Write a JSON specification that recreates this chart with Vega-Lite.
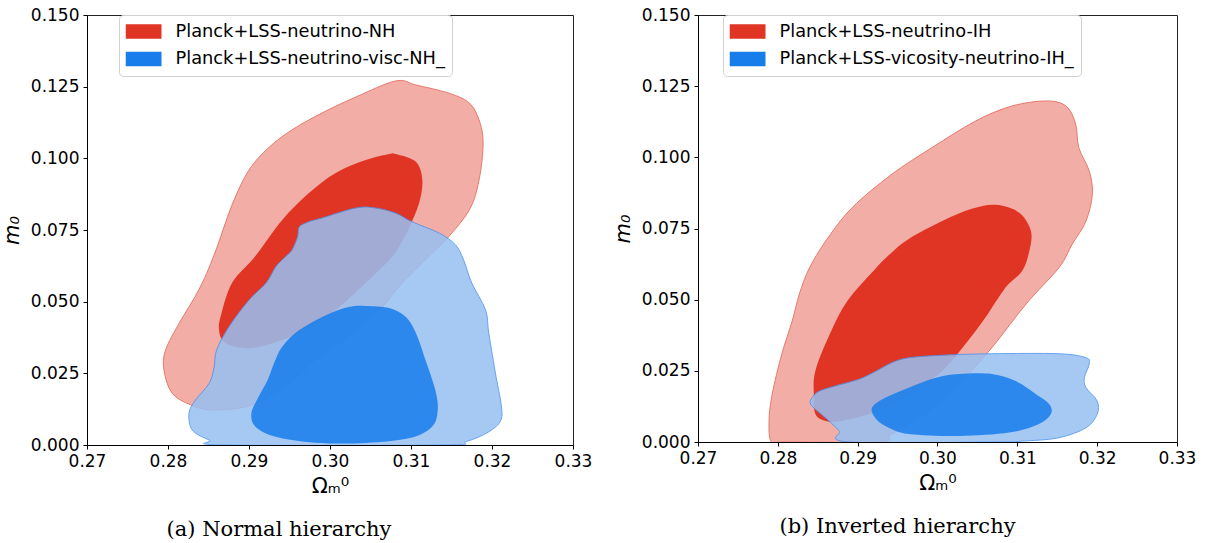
{
  "$schema": "https://vega.github.io/schema/vega-lite/v6.json",
  "background": "white",
  "padding": {"left": 0, "top": 5, "right": 5, "bottom": 0},
  "spacing": 125,
  "bounds": "flush",
  "config": {
    "font": "DejaVu Sans",
    "view": {"stroke": "#222222", "strokeWidth": 1},
    "axis": {
      "grid": false,
      "domainColor": "#000000",
      "tickColor": "#000000",
      "labelColor": "#000000",
      "titleColor": "#000000",
      "labelFont": "DejaVu Sans",
      "labelFontSize": 17,
      "tickSize": 4,
      "labelPadding": 4,
      "titleFont": "DejaVu Sans",
      "titleFontWeight": "normal",
      "labelOverlap": false,
      "labelFlush": false
    },
    "legend": {
      "orient": "none",
      "title": null,
      "labelFont": "DejaVu Sans",
      "labelFontSize": 17.8,
      "labelColor": "#000000",
      "symbolType": "M-1,-0.4H1V0.4H-1Z",
      "symbolSize": 1296,
      "symbolOpacity": 1,
      "symbolStrokeWidth": 0,
      "symbolOffset": 0,
      "labelOffset": 14,
      "clipHeight": 20,
      "padding": 6.5,
      "rowPadding": 7.5,
      "strokeColor": "#d0d0d0",
      "fillColor": "rgba(255,255,255,0.8)",
      "cornerRadius": 4,
      "labelLimit": 0
    }
  },
  "resolve": {"scale": {"color": "independent"}, "legend": {"color": "independent"}},
  "datasets": {
    "L": [
      {"c":"ro","i":1,"x":0.3081,"y":0.1270},
      {"c":"ro","i":2,"x":0.3106,"y":0.1256},
      {"c":"ro","i":3,"x":0.3147,"y":0.1227},
      {"c":"ro","i":4,"x":0.3172,"y":0.1193},
      {"c":"ro","i":5,"x":0.3184,"y":0.1134},
      {"c":"ro","i":6,"x":0.3189,"y":0.1053},
      {"c":"ro","i":7,"x":0.3184,"y":0.0924},
      {"c":"ro","i":8,"x":0.3172,"y":0.0820},
      {"c":"ro","i":9,"x":0.3143,"y":0.0715},
      {"c":"ro","i":10,"x":0.3130,"y":0.0680},
      {"c":"ro","i":11,"x":0.3089,"y":0.0565},
      {"c":"ro","i":12,"x":0.3064,"y":0.0481},
      {"c":"ro","i":13,"x":0.3023,"y":0.0377},
      {"c":"ro","i":14,"x":0.2982,"y":0.0296},
      {"c":"ro","i":15,"x":0.2962,"y":0.0241},
      {"c":"ro","i":16,"x":0.2937,"y":0.0186},
      {"c":"ro","i":17,"x":0.2900,"y":0.0136},
      {"c":"ro","i":18,"x":0.2855,"y":0.0122},
      {"c":"ro","i":19,"x":0.2828,"y":0.0140},
      {"c":"ro","i":20,"x":0.2805,"y":0.0181},
      {"c":"ro","i":21,"x":0.2795,"y":0.0262},
      {"c":"ro","i":22,"x":0.2797,"y":0.0331},
      {"c":"ro","i":23,"x":0.2814,"y":0.0426},
      {"c":"ro","i":24,"x":0.2838,"y":0.0541},
      {"c":"ro","i":25,"x":0.2857,"y":0.0663},
      {"c":"ro","i":26,"x":0.2879,"y":0.0837},
      {"c":"ro","i":27,"x":0.2900,"y":0.0959},
      {"c":"ro","i":28,"x":0.2925,"y":0.1039},
      {"c":"ro","i":29,"x":0.2953,"y":0.1099},
      {"c":"ro","i":30,"x":0.2990,"y":0.1158},
      {"c":"ro","i":31,"x":0.3032,"y":0.1214},

      {"c":"ri","m":"Planck+LSS-neutrino-NH","i":1,"x":0.3081,"y":0.1015},
      {"c":"ri","m":"Planck+LSS-neutrino-NH","i":2,"x":0.3106,"y":0.0988},
      {"c":"ri","m":"Planck+LSS-neutrino-NH","i":3,"x":0.3114,"y":0.0924},
      {"c":"ri","m":"Planck+LSS-neutrino-NH","i":4,"x":0.3110,"y":0.0844},
      {"c":"ri","m":"Planck+LSS-neutrino-NH","i":5,"x":0.3098,"y":0.0760},
      {"c":"ri","m":"Planck+LSS-neutrino-NH","i":6,"x":0.3085,"y":0.0691},
      {"c":"ri","m":"Planck+LSS-neutrino-NH","i":7,"x":0.3073,"y":0.0645},
      {"c":"ri","m":"Planck+LSS-neutrino-NH","i":8,"x":0.3044,"y":0.0565},
      {"c":"ri","m":"Planck+LSS-neutrino-NH","i":9,"x":0.3002,"y":0.0460},
      {"c":"ri","m":"Planck+LSS-neutrino-NH","i":10,"x":0.2962,"y":0.0391},
      {"c":"ri","m":"Planck+LSS-neutrino-NH","i":11,"x":0.2912,"y":0.0342},
      {"c":"ri","m":"Planck+LSS-neutrino-NH","i":12,"x":0.2884,"y":0.0342},
      {"c":"ri","m":"Planck+LSS-neutrino-NH","i":13,"x":0.2868,"y":0.0363},
      {"c":"ri","m":"Planck+LSS-neutrino-NH","i":14,"x":0.2863,"y":0.0401},
      {"c":"ri","m":"Planck+LSS-neutrino-NH","i":15,"x":0.2865,"y":0.0448},
      {"c":"ri","m":"Planck+LSS-neutrino-NH","i":16,"x":0.2879,"y":0.0565},
      {"c":"ri","m":"Planck+LSS-neutrino-NH","i":17,"x":0.2907,"y":0.0656},
      {"c":"ri","m":"Planck+LSS-neutrino-NH","i":18,"x":0.2941,"y":0.0785},
      {"c":"ri","m":"Planck+LSS-neutrino-NH","i":19,"x":0.2974,"y":0.0879},
      {"c":"ri","m":"Planck+LSS-neutrino-NH","i":20,"x":0.3007,"y":0.0949},
      {"c":"ri","m":"Planck+LSS-neutrino-NH","i":21,"x":0.3044,"y":0.0994},
      {"c":"ri","m":"Planck+LSS-neutrino-NH","i":22,"x":0.3073,"y":0.1015},

      {"c":"bo","i":1,"x":0.2960,"y":0.0727},
      {"c":"bo","i":2,"x":0.2962,"y":0.0761},
      {"c":"bo","i":3,"x":0.2974,"y":0.0779},
      {"c":"bo","i":4,"x":0.2990,"y":0.0792},
      {"c":"bo","i":5,"x":0.3032,"y":0.0827},
      {"c":"bo","i":6,"x":0.3056,"y":0.0827},
      {"c":"bo","i":7,"x":0.3081,"y":0.0809},
      {"c":"bo","i":8,"x":0.3101,"y":0.0779},
      {"c":"bo","i":9,"x":0.3135,"y":0.0739},
      {"c":"bo","i":10,"x":0.3155,"y":0.0698},
      {"c":"bo","i":11,"x":0.3165,"y":0.0645},
      {"c":"bo","i":12,"x":0.3175,"y":0.0565},
      {"c":"bo","i":13,"x":0.3192,"y":0.0471},
      {"c":"bo","i":14,"x":0.3196,"y":0.0391},
      {"c":"bo","i":15,"x":0.3205,"y":0.0238},
      {"c":"bo","i":16,"x":0.3211,"y":0.0147},
      {"c":"bo","i":17,"x":0.3211,"y":0.0087},
      {"c":"bo","i":18,"x":0.3196,"y":0.0046},
      {"c":"bo","i":19,"x":0.3168,"y":0.0012},
      {"c":"bo","i":20,"x":0.3138,"y":0.0},
      {"c":"bo","i":21,"x":0.2869,"y":0.0},
      {"c":"bo","i":22,"x":0.2851,"y":0.0017},
      {"c":"bo","i":23,"x":0.2830,"y":0.0052},
      {"c":"bo","i":24,"x":0.2826,"y":0.0112},
      {"c":"bo","i":25,"x":0.2834,"y":0.0157},
      {"c":"bo","i":26,"x":0.2851,"y":0.0216},
      {"c":"bo","i":27,"x":0.2857,"y":0.0272},
      {"c":"bo","i":28,"x":0.2860,"y":0.0331},
      {"c":"bo","i":29,"x":0.2875,"y":0.0412},
      {"c":"bo","i":30,"x":0.2900,"y":0.0506},
      {"c":"bo","i":31,"x":0.2921,"y":0.0565},
      {"c":"bo","i":32,"x":0.2933,"y":0.0622},
      {"c":"bo","i":33,"x":0.2945,"y":0.0657},
      {"c":"bo","i":34,"x":0.2953,"y":0.0680},

      {"c":"bi","m":"Planck+LSS-neutrino-visc-NH_","i":1,"x":0.3044,"y":0.0485},
      {"c":"bi","m":"Planck+LSS-neutrino-visc-NH_","i":2,"x":0.3073,"y":0.0478},
      {"c":"bi","m":"Planck+LSS-neutrino-visc-NH_","i":3,"x":0.3093,"y":0.0448},
      {"c":"bi","m":"Planck+LSS-neutrino-visc-NH_","i":4,"x":0.3106,"y":0.0391},
      {"c":"bi","m":"Planck+LSS-neutrino-visc-NH_","i":5,"x":0.3118,"y":0.0296},
      {"c":"bi","m":"Planck+LSS-neutrino-visc-NH_","i":6,"x":0.3130,"y":0.0192},
      {"c":"bi","m":"Planck+LSS-neutrino-visc-NH_","i":7,"x":0.3133,"y":0.0122},
      {"c":"bi","m":"Planck+LSS-neutrino-visc-NH_","i":8,"x":0.3126,"y":0.0064},
      {"c":"bi","m":"Planck+LSS-neutrino-visc-NH_","i":9,"x":0.3098,"y":0.0024},
      {"c":"bi","m":"Planck+LSS-neutrino-visc-NH_","i":10,"x":0.3044,"y":0.0007},
      {"c":"bi","m":"Planck+LSS-neutrino-visc-NH_","i":11,"x":0.2982,"y":0.0008},
      {"c":"bi","m":"Planck+LSS-neutrino-visc-NH_","i":12,"x":0.2933,"y":0.0029},
      {"c":"bi","m":"Planck+LSS-neutrino-visc-NH_","i":13,"x":0.2908,"y":0.0064},
      {"c":"bi","m":"Planck+LSS-neutrino-visc-NH_","i":14,"x":0.2903,"y":0.0112},
      {"c":"bi","m":"Planck+LSS-neutrino-visc-NH_","i":15,"x":0.2912,"y":0.0169},
      {"c":"bi","m":"Planck+LSS-neutrino-visc-NH_","i":16,"x":0.2923,"y":0.0227},
      {"c":"bi","m":"Planck+LSS-neutrino-visc-NH_","i":17,"x":0.2931,"y":0.0286},
      {"c":"bi","m":"Planck+LSS-neutrino-visc-NH_","i":18,"x":0.2941,"y":0.0343},
      {"c":"bi","m":"Planck+LSS-neutrino-visc-NH_","i":19,"x":0.2962,"y":0.0401},
      {"c":"bi","m":"Planck+LSS-neutrino-visc-NH_","i":20,"x":0.2995,"y":0.0453},
      {"c":"bi","m":"Planck+LSS-neutrino-visc-NH_","i":21,"x":0.3023,"y":0.0481}
    ],
    "R": [
      {"c":"ro","i":1,"x":0.3136,"y":0.1198},
      {"c":"ro","i":2,"x":0.3161,"y":0.1180},
      {"c":"ro","i":3,"x":0.3173,"y":0.1117},
      {"c":"ro","i":4,"x":0.3177,"y":0.1034},
      {"c":"ro","i":5,"x":0.3190,"y":0.0952},
      {"c":"ro","i":6,"x":0.3194,"y":0.0871},
      {"c":"ro","i":7,"x":0.3186,"y":0.0776},
      {"c":"ro","i":8,"x":0.3169,"y":0.0696},
      {"c":"ro","i":9,"x":0.3152,"y":0.0612},
      {"c":"ro","i":10,"x":0.3111,"y":0.0485},
      {"c":"ro","i":11,"x":0.3068,"y":0.0331},
      {"c":"ro","i":12,"x":0.3027,"y":0.0204},
      {"c":"ro","i":13,"x":0.2985,"y":0.0098},
      {"c":"ro","i":14,"x":0.2943,"y":0.0028},
      {"c":"ro","i":15,"x":0.2927,"y":0.0},
      {"c":"ro","i":16,"x":0.2810,"y":0.0},
      {"c":"ro","i":17,"x":0.2792,"y":0.0},
      {"c":"ro","i":18,"x":0.2789,"y":0.0074},
      {"c":"ro","i":19,"x":0.2793,"y":0.0169},
      {"c":"ro","i":20,"x":0.2805,"y":0.0309},
      {"c":"ro","i":21,"x":0.2818,"y":0.0425},
      {"c":"ro","i":22,"x":0.2827,"y":0.0520},
      {"c":"ro","i":23,"x":0.2839,"y":0.0608},
      {"c":"ro","i":24,"x":0.2860,"y":0.0706},
      {"c":"ro","i":25,"x":0.2893,"y":0.0823},
      {"c":"ro","i":26,"x":0.2943,"y":0.0941},
      {"c":"ro","i":27,"x":0.2993,"y":0.1034},
      {"c":"ro","i":28,"x":0.3048,"y":0.1128},
      {"c":"ro","i":29,"x":0.3093,"y":0.1180},

      {"c":"ri","m":"Planck+LSS-neutrino-IH","i":1,"x":0.3073,"y":0.0833},
      {"c":"ri","m":"Planck+LSS-neutrino-IH","i":2,"x":0.3102,"y":0.0806},
      {"c":"ri","m":"Planck+LSS-neutrino-IH","i":3,"x":0.3117,"y":0.0741},
      {"c":"ri","m":"Planck+LSS-neutrino-IH","i":4,"x":0.3115,"y":0.0671},
      {"c":"ri","m":"Planck+LSS-neutrino-IH","i":5,"x":0.3106,"y":0.0601},
      {"c":"ri","m":"Planck+LSS-neutrino-IH","i":6,"x":0.3085,"y":0.0542},
      {"c":"ri","m":"Planck+LSS-neutrino-IH","i":7,"x":0.3060,"y":0.0437},
      {"c":"ri","m":"Planck+LSS-neutrino-IH","i":8,"x":0.3035,"y":0.0344},
      {"c":"ri","m":"Planck+LSS-neutrino-IH","i":9,"x":0.3010,"y":0.0261},
      {"c":"ri","m":"Planck+LSS-neutrino-IH","i":10,"x":0.2985,"y":0.0204},
      {"c":"ri","m":"Planck+LSS-neutrino-IH","i":11,"x":0.2952,"y":0.0144},
      {"c":"ri","m":"Planck+LSS-neutrino-IH","i":12,"x":0.2914,"y":0.0098},
      {"c":"ri","m":"Planck+LSS-neutrino-IH","i":13,"x":0.2880,"y":0.0074},
      {"c":"ri","m":"Planck+LSS-neutrino-IH","i":14,"x":0.2860,"y":0.0074},
      {"c":"ri","m":"Planck+LSS-neutrino-IH","i":15,"x":0.2847,"y":0.0098},
      {"c":"ri","m":"Planck+LSS-neutrino-IH","i":16,"x":0.2845,"y":0.0169},
      {"c":"ri","m":"Planck+LSS-neutrino-IH","i":17,"x":0.2847,"y":0.0249},
      {"c":"ri","m":"Planck+LSS-neutrino-IH","i":18,"x":0.2864,"y":0.0372},
      {"c":"ri","m":"Planck+LSS-neutrino-IH","i":19,"x":0.2887,"y":0.0495},
      {"c":"ri","m":"Planck+LSS-neutrino-IH","i":20,"x":0.2922,"y":0.0608},
      {"c":"ri","m":"Planck+LSS-neutrino-IH","i":21,"x":0.2942,"y":0.0664},
      {"c":"ri","m":"Planck+LSS-neutrino-IH","i":22,"x":0.2964,"y":0.0713},
      {"c":"ri","m":"Planck+LSS-neutrino-IH","i":23,"x":0.3006,"y":0.0776},
      {"c":"ri","m":"Planck+LSS-neutrino-IH","i":24,"x":0.3043,"y":0.0819},

      {"c":"bo","i":1,"x":0.2843,"y":0.0156},
      {"c":"bo","i":2,"x":0.2852,"y":0.0179},
      {"c":"bo","i":3,"x":0.2872,"y":0.0197},
      {"c":"bo","i":4,"x":0.2902,"y":0.0221},
      {"c":"bo","i":5,"x":0.2923,"y":0.0249},
      {"c":"bo","i":6,"x":0.2943,"y":0.0279},
      {"c":"bo","i":7,"x":0.2964,"y":0.0296},
      {"c":"bo","i":8,"x":0.3006,"y":0.0305},
      {"c":"bo","i":9,"x":0.3068,"y":0.0310},
      {"c":"bo","i":10,"x":0.3152,"y":0.0310},
      {"c":"bo","i":11,"x":0.3186,"y":0.0296},
      {"c":"bo","i":12,"x":0.3190,"y":0.0274},
      {"c":"bo","i":13,"x":0.3184,"y":0.0226},
      {"c":"bo","i":14,"x":0.3186,"y":0.0191},
      {"c":"bo","i":15,"x":0.3200,"y":0.0144},
      {"c":"bo","i":16,"x":0.3200,"y":0.0098},
      {"c":"bo","i":17,"x":0.3186,"y":0.0050},
      {"c":"bo","i":18,"x":0.3152,"y":0.0015},
      {"c":"bo","i":19,"x":0.3111,"y":0.0004},
      {"c":"bo","i":20,"x":0.3068,"y":0.0},
      {"c":"bo","i":21,"x":0.2889,"y":0.0},
      {"c":"bo","i":22,"x":0.2877,"y":0.0039},
      {"c":"bo","i":23,"x":0.2864,"y":0.0074},
      {"c":"bo","i":24,"x":0.2852,"y":0.0103},
      {"c":"bo","i":25,"x":0.2841,"y":0.0133},

      {"c":"bi","m":"Planck+LSS-vicosity-neutrino-IH_","i":1,"x":0.2918,"y":0.0120},
      {"c":"bi","m":"Planck+LSS-vicosity-neutrino-IH_","i":2,"x":0.2935,"y":0.0156},
      {"c":"bi","m":"Planck+LSS-vicosity-neutrino-IH_","i":3,"x":0.2964,"y":0.0191},
      {"c":"bi","m":"Planck+LSS-vicosity-neutrino-IH_","i":4,"x":0.2998,"y":0.0226},
      {"c":"bi","m":"Planck+LSS-vicosity-neutrino-IH_","i":5,"x":0.3027,"y":0.0239},
      {"c":"bi","m":"Planck+LSS-vicosity-neutrino-IH_","i":6,"x":0.3068,"y":0.0239},
      {"c":"bi","m":"Planck+LSS-vicosity-neutrino-IH_","i":7,"x":0.3098,"y":0.0214},
      {"c":"bi","m":"Planck+LSS-vicosity-neutrino-IH_","i":8,"x":0.3123,"y":0.0169},
      {"c":"bi","m":"Planck+LSS-vicosity-neutrino-IH_","i":9,"x":0.3140,"y":0.0133},
      {"c":"bi","m":"Planck+LSS-vicosity-neutrino-IH_","i":10,"x":0.3142,"y":0.0098},
      {"c":"bi","m":"Planck+LSS-vicosity-neutrino-IH_","i":11,"x":0.3127,"y":0.0063},
      {"c":"bi","m":"Planck+LSS-vicosity-neutrino-IH_","i":12,"x":0.3090,"y":0.0033},
      {"c":"bi","m":"Planck+LSS-vicosity-neutrino-IH_","i":13,"x":0.3027,"y":0.0021},
      {"c":"bi","m":"Planck+LSS-vicosity-neutrino-IH_","i":14,"x":0.2964,"y":0.0028},
      {"c":"bi","m":"Planck+LSS-vicosity-neutrino-IH_","i":15,"x":0.2939,"y":0.0050},
      {"c":"bi","m":"Planck+LSS-vicosity-neutrino-IH_","i":16,"x":0.2923,"y":0.0081}
    ]
  },
  "hconcat": [
    {
      "width": 486,
      "height": 430,
      "title": {"text": "(a) Normal hierarchy", "orient": "bottom", "font": "DejaVu Serif", "fontSize": 21, "fontWeight": "normal", "color": "#000000", "anchor": "middle", "frame": "group", "dx": -51, "offset": 23},
      "data": {"name": "L"},
      "encoding": {
        "x": {"field": "x", "type": "quantitative", "scale": {"domain": [0.27, 0.33], "nice": false, "zero": false}, "axis": {"values": [0.27, 0.28, 0.29, 0.30, 0.31, 0.32, 0.33], "format": ".2f", "title": "Ωₘ⁰", "titleFontSize": 21, "titlePadding": 6}},
        "y": {"field": "y", "type": "quantitative", "scale": {"domain": [0, 0.15], "nice": false, "zero": false}, "axis": {"values": [0, 0.025, 0.05, 0.075, 0.1, 0.125, 0.15], "format": ".3f", "title": "m₀", "titleFontSize": 21, "titleFontStyle": "italic", "titlePadding": 8}},
        "order": {"field": "i", "type": "quantitative"}
      },
      "layer": [
        {"transform": [{"filter": "datum.c === 'ro'"}], "mark": {"type": "line", "interpolate": "cardinal-closed", "fill": "#F2ADA6", "stroke": "#E8786C", "strokeWidth": 1, "clip": true}},
        {"transform": [{"filter": "datum.c === 'ri'"}], "mark": {"type": "line", "interpolate": "cardinal-closed", "filled": true, "clip": true},
         "encoding": {"color": {"field": "m", "type": "nominal", "scale": {"domain": ["Planck+LSS-neutrino-NH", "Planck+LSS-neutrino-visc-NH_"], "range": ["#E03424", "#167DEB"]}, "legend": {"legendX": 32, "legendY": 0}}}},
        {"transform": [{"filter": "datum.c === 'bo'"}], "mark": {"type": "line", "interpolate": "cardinal-closed", "fill": "#97C0F3", "stroke": "#4C93EC", "strokeWidth": 1, "opacity": 0.85, "clip": true}},
        {"transform": [{"filter": "datum.c === 'bi'"}], "mark": {"type": "line", "interpolate": "cardinal-closed", "filled": true, "opacity": 0.85, "clip": true},
         "encoding": {"color": {"field": "m", "type": "nominal", "scale": {"domain": ["Planck+LSS-neutrino-NH", "Planck+LSS-neutrino-visc-NH_"], "range": ["#E03424", "#167DEB"]}, "legend": {"legendX": 32, "legendY": 0}}}}
      ]
    },
    {
      "width": 479,
      "height": 427,
      "title": {"text": "(b) Inverted hierarchy", "orient": "bottom", "font": "DejaVu Serif", "fontSize": 21, "fontWeight": "normal", "color": "#000000", "anchor": "middle", "frame": "group", "dx": -40, "offset": 23},
      "data": {"name": "R"},
      "encoding": {
        "x": {"field": "x", "type": "quantitative", "scale": {"domain": [0.27, 0.33], "nice": false, "zero": false}, "axis": {"values": [0.27, 0.28, 0.29, 0.30, 0.31, 0.32, 0.33], "format": ".2f", "title": "Ωₘ⁰", "titleFontSize": 21, "titlePadding": 6}},
        "y": {"field": "y", "type": "quantitative", "scale": {"domain": [0, 0.15], "nice": false, "zero": false}, "axis": {"values": [0, 0.025, 0.05, 0.075, 0.1, 0.125, 0.15], "format": ".3f", "title": "m₀", "titleFontSize": 21, "titleFontStyle": "italic", "titlePadding": 8}},
        "order": {"field": "i", "type": "quantitative"}
      },
      "layer": [
        {"transform": [{"filter": "datum.c === 'ro'"}], "mark": {"type": "line", "interpolate": "cardinal-closed", "fill": "#F2ADA6", "stroke": "#E8786C", "strokeWidth": 1, "clip": true}},
        {"transform": [{"filter": "datum.c === 'ri'"}], "mark": {"type": "line", "interpolate": "cardinal-closed", "filled": true, "clip": true},
         "encoding": {"color": {"field": "m", "type": "nominal", "scale": {"domain": ["Planck+LSS-neutrino-IH", "Planck+LSS-vicosity-neutrino-IH_"], "range": ["#E03424", "#167DEB"]}, "legend": {"legendX": 25, "legendY": 0}}}},
        {"transform": [{"filter": "datum.c === 'bo'"}], "mark": {"type": "line", "interpolate": "cardinal-closed", "fill": "#97C0F3", "stroke": "#4C93EC", "strokeWidth": 1, "opacity": 0.85, "clip": true}},
        {"transform": [{"filter": "datum.c === 'bi'"}], "mark": {"type": "line", "interpolate": "cardinal-closed", "filled": true, "opacity": 0.85, "clip": true},
         "encoding": {"color": {"field": "m", "type": "nominal", "scale": {"domain": ["Planck+LSS-neutrino-IH", "Planck+LSS-vicosity-neutrino-IH_"], "range": ["#E03424", "#167DEB"]}, "legend": {"legendX": 25, "legendY": 0}}}}
      ]
    }
  ]
}
